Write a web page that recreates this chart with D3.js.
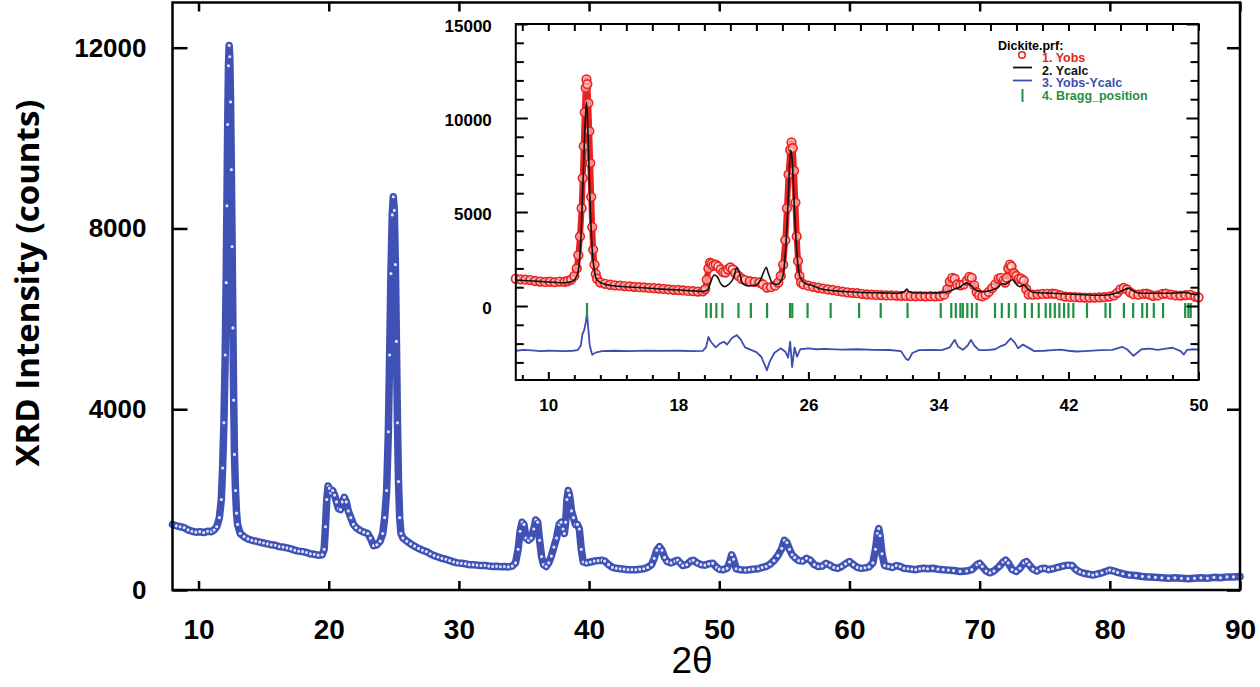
<!DOCTYPE html>
<html><head><meta charset="utf-8">
<script src="https://cdn.jsdelivr.net/npm/d3@7"></script>
<style>body{margin:0;background:#fff}svg{display:block}</style>
</head><body>
<svg id="c" width="1260" height="687"></svg>
<script>
// ---------- DATA ----------
const mainTheta = [8.0,8.3,8.6,8.9,9.2,9.5,9.8,10.1,10.4,10.7,11.0,11.2,11.4,11.6,11.75,11.85,11.95,12.05,12.12,12.18,12.24,12.3,12.35,12.4,12.46,12.52,12.58,12.64,12.7,12.76,12.84,12.92,13.0,13.2,13.5,13.8,14.1,14.4,14.7,15.0,15.3,15.6,15.9,16.2,16.5,16.8,17.1,17.4,17.7,18.0,18.3,18.6,18.9,19.2,19.5,19.65,19.75,19.85,19.95,20.05,20.15,20.3,20.45,20.6,20.75,20.9,21.05,21.2,21.35,21.5,21.7,21.9,22.1,22.4,22.7,23.0,23.2,23.45,23.7,23.95,24.15,24.3,24.45,24.58,24.68,24.78,24.88,24.96,25.04,25.12,25.2,25.28,25.36,25.45,25.55,25.7,26.0,26.3,26.6,26.9,27.2,27.5,27.8,28.1,28.4,28.7,29.0,29.3,29.6,29.9,30.2,30.5,30.8,31.1,31.4,31.7,32.0,32.3,32.6,32.9,33.2,33.5,33.8,34.1,34.35,34.55,34.7,34.85,35.0,35.15,35.35,35.55,35.75,35.9,36.05,36.2,36.35,36.5,36.7,36.9,37.1,37.3,37.5,37.7,37.85,38.0,38.1,38.2,38.3,38.4,38.5,38.65,38.8,38.95,39.1,39.25,39.4,39.55,39.8,40.1,40.4,40.7,41.0,41.2,41.5,41.8,42.1,42.4,42.7,43.0,43.3,43.6,43.9,44.2,44.5,44.8,45.0,45.2,45.4,45.6,45.8,46.0,46.3,46.6,46.8,47.0,47.2,47.5,47.8,48.0,48.3,48.6,48.9,49.2,49.5,49.8,50.0,50.3,50.6,50.8,50.95,51.1,51.3,51.6,52.0,52.3,52.6,53.0,53.3,53.6,53.9,54.2,54.5,54.8,55.0,55.2,55.4,55.6,55.8,56.1,56.4,56.7,57.0,57.3,57.6,57.9,58.2,58.5,58.8,59.1,59.4,59.7,60.0,60.3,60.6,60.9,61.2,61.5,61.8,62.0,62.15,62.25,62.35,62.5,62.7,63.0,63.3,63.6,63.9,64.2,64.5,64.8,65.1,65.4,65.7,66.0,66.4,66.8,67.2,67.6,68.0,68.5,69.0,69.4,69.8,70.0,70.2,70.5,70.8,71.1,71.5,71.8,72.0,72.2,72.5,72.8,73.1,73.4,73.6,73.8,74.1,74.4,74.7,75.0,75.3,75.6,76.0,76.4,76.8,77.1,77.4,77.7,78.0,78.4,78.7,79.0,79.4,79.8,80.0,80.3,80.6,81.0,81.5,82.0,82.5,83.0,83.5,84.0,84.5,85.0,85.5,86.0,86.5,87.0,87.5,88.0,88.5,89.0,89.5,90.0];
const mainCounts = [1450,1420,1400,1380,1330,1300,1280,1290,1270,1300,1290,1330,1400,1600,2000,2700,3700,5200,6800,8500,10300,11600,12050,11800,10800,9300,7600,5800,4200,3000,2200,1700,1450,1250,1180,1130,1100,1080,1060,1040,1020,1000,990,960,950,930,910,880,860,850,830,800,790,770,780,900,1400,2000,2300,2250,2150,2200,2100,1950,1800,1780,1950,2050,1950,1750,1600,1450,1380,1320,1280,1250,1150,980,1000,1080,1250,1600,2200,3500,5200,7000,8300,8700,8400,7200,5500,3700,2400,1600,1250,1150,1080,1020,970,920,880,850,800,760,730,700,680,650,620,600,590,580,560,560,550,540,545,530,520,525,515,520,510,530,600,900,1300,1500,1450,1150,1100,1150,1350,1550,1500,1100,740,560,520,600,750,950,1150,1450,1500,1350,1250,1500,2000,2200,2100,1750,1600,1450,1450,1350,900,620,600,620,640,650,660,640,560,500,480,470,460,450,450,450,460,470,500,560,700,880,960,880,720,630,600,640,660,600,540,560,640,660,600,560,550,580,590,500,460,450,480,620,780,680,470,450,440,450,460,470,500,520,570,650,760,920,1100,1050,900,780,720,650,640,700,660,560,520,530,590,550,500,480,520,580,630,560,500,480,490,510,600,900,1250,1360,1200,800,540,520,500,540,520,480,470,460,450,470,480,470,480,460,450,440,430,410,420,450,560,590,520,420,380,420,520,620,660,600,450,410,480,600,630,560,460,420,470,480,450,470,500,530,550,540,450,400,370,350,330,350,380,420,440,420,390,360,330,320,300,290,280,270,260,270,260,250,260,270,260,280,270,290,290,300];

const calcTheta = [8.0,9.0,10.0,11.0,11.5,11.8,12.0,12.15,12.28,12.35,12.42,12.55,12.7,12.85,13.0,13.5,14.0,15.0,16.0,17.0,18.0,19.0,19.5,19.8,20.0,20.2,20.4,20.6,20.85,21.1,21.4,21.6,21.75,21.95,22.3,22.7,23.0,23.25,23.4,23.55,23.8,24.1,24.4,24.6,24.75,24.9,25.0,25.15,25.3,25.5,25.8,26.2,26.8,27.5,28.5,29.5,30.5,31.5,31.9,32.05,32.2,32.6,33.5,34.2,34.7,35.0,35.3,35.55,35.75,36.0,36.3,36.8,37.3,37.6,37.9,38.1,38.3,38.55,38.75,39.0,39.25,39.45,39.8,40.5,41.0,42.0,43.0,43.8,44.5,45.0,45.4,45.7,45.95,46.3,47.0,48.0,48.6,49.2,49.6,50.0];
const calcCounts = [1380,1330,1280,1240,1320,1700,3500,7000,10000,10850,9800,6000,3000,1800,1380,1150,1080,1010,960,900,850,800,780,850,1300,1650,1550,1200,1030,1150,1500,2050,1800,1200,1060,1100,1300,1800,2060,1700,1200,1150,1500,3000,5500,8300,7800,5000,2700,1500,1200,1100,900,820,760,710,700,680,760,900,760,690,690,710,800,900,1000,1150,1230,1100,850,760,850,950,1200,1150,1250,1400,1200,1030,1120,950,730,690,680,640,600,570,600,700,850,950,820,690,680,680,690,720,640,600];

const diffTheta = [8.0,8.5,9.0,9.5,10.0,10.5,11.0,11.5,11.8,12.0,12.1,12.2,12.3,12.38,12.45,12.55,12.7,12.9,13.3,14.0,15.0,16.0,17.0,18.0,19.0,19.5,19.7,19.85,20.0,20.3,20.55,20.8,21.0,21.3,21.6,21.85,22.1,22.5,22.8,23.1,23.3,23.45,23.6,23.9,24.3,24.6,24.75,24.88,25.0,25.15,25.3,25.5,26.0,26.5,27.0,28.0,29.0,30.0,31.0,31.7,32.0,32.15,32.4,32.8,33.5,34.2,34.7,35.0,35.2,35.5,35.8,36.0,36.2,36.5,37.0,37.5,37.8,38.1,38.45,38.7,38.9,39.2,39.5,39.9,40.5,41.0,41.5,42.0,42.5,43.0,44.0,44.7,45.3,45.6,46.0,46.5,47.0,47.5,48.0,48.4,48.9,49.1,49.3,49.7,50.0];
const diffCounts = [-2380,-2330,-2360,-2400,-2380,-2390,-2400,-2380,-2350,-2100,-1500,-1300,-900,-400,-1100,-2100,-2600,-2480,-2400,-2380,-2400,-2370,-2390,-2380,-2400,-2390,-2200,-1650,-1900,-2200,-2000,-1900,-2050,-1700,-1550,-1800,-2200,-2350,-2450,-2700,-3100,-3420,-3000,-2500,-2250,-2450,-2750,-1900,-3250,-2200,-2700,-2300,-2250,-2300,-2280,-2320,-2300,-2330,-2340,-2400,-2800,-2880,-2500,-2350,-2340,-2350,-2200,-1800,-2150,-2330,-2100,-1800,-2100,-2350,-2350,-2300,-2150,-2050,-1720,-1950,-2250,-2050,-2200,-2400,-2380,-2350,-2320,-2380,-2420,-2400,-2350,-2330,-2170,-2300,-2650,-2300,-2270,-2330,-2270,-2220,-2400,-2580,-2330,-2300,-2320];

const braggTheta = [12.38,19.72,20.0,20.34,20.71,21.7,22.46,23.46,24.87,25.01,25.95,27.37,29.12,30.45,32.1,34.14,34.79,35.07,35.35,35.5,35.78,36.06,36.35,37.48,37.9,38.33,38.75,39.32,39.75,40.17,40.6,40.88,41.16,41.44,41.73,42.0,42.3,43.14,44.28,44.56,45.41,45.98,46.54,46.83,47.25,47.82,49.18,49.38,49.52];

const mainXTicks = [10,20,30,40,50,60,70,80,90];
const mainYTicks = [0,4000,8000,12000];
const insetXTicks = [10,18,26,34,42,50];
const insetYTicks = [0,5000,10000,15000];
const legendItems = ["1. Yobs","2. Ycalc","3. Yobs-Ycalc","4. Bragg_position"];

// ---------- DRAW ----------
const svg = d3.select("#c");
const BLUE = "#3f51b5", RED = "#ea2320", GREEN = "#1f9142", DBLUE = "#3d4eb0";
const FONT = "'Liberation Sans', Arial, sans-serif";
const fmt = d3.format("d");

const x = d3.scaleLinear().domain([8,90]).range([172.5,1240]);
const y = d3.scaleLinear().domain([0,13000]).range([590,2.5]);

const mainPts = mainTheta.map((t,i)=>[t, mainCounts[i]]);

// main series
const line = d3.line().x(d=>x(d[0])).y(d=>y(d[1]));
svg.append("path").datum(mainPts).attr("d", line)
  .attr("fill","none").attr("stroke",BLUE).attr("stroke-width",7.5)
  .attr("stroke-linejoin","round").attr("stroke-linecap","round");
svg.append("g").selectAll("circle").data(mainPts).join("circle")
  .attr("cx",d=>x(d[0])).attr("cy",d=>y(d[1])).attr("r",2.2)
  .attr("fill","#dfe3f5").attr("stroke",BLUE).attr("stroke-width",1.2);

// main axes (ticks on all sides, inward)
function styleAxis(g, fs){
  g.select(".domain").remove();
  g.selectAll("line").attr("stroke","#000").attr("stroke-width",2.5);
  g.selectAll("text").attr("font-family",FONT).attr("font-weight","bold").attr("font-size",fs).attr("fill","#000");
}
const gxB = svg.append("g").attr("transform","translate(0,590)")
  .call(d3.axisBottom(x).tickValues(mainXTicks).tickSize(-9).tickPadding(29).tickFormat(fmt));
styleAxis(gxB, 28);
const gxT = svg.append("g").attr("transform","translate(0,2.5)")
  .call(d3.axisTop(x).tickValues(mainXTicks).tickSize(-9).tickFormat(""));
styleAxis(gxT, 28);
const gyL = svg.append("g").attr("transform","translate(172.5,0)")
  .call(d3.axisLeft(y).tickValues(mainYTicks).tickSize(-15).tickPadding(26).tickFormat(fmt));
styleAxis(gyL, 26);
const gyR = svg.append("g").attr("transform","translate(1240,0)")
  .call(d3.axisRight(y).tickValues(mainYTicks).tickSize(-13).tickFormat(""));
styleAxis(gyR, 26);
svg.append("rect").attr("x",172.5).attr("y",2.5).attr("width",1240-172.5).attr("height",590-2.5)
  .attr("fill","none").attr("stroke","#000").attr("stroke-width",2.5);

svg.append("text").attr("x",692).attr("y",673).attr("text-anchor","middle")
  .attr("font-family",FONT).attr("font-size",37).attr("fill","#000").text("2θ");
svg.append("text").attr("transform","translate(39,283) rotate(-90)").attr("text-anchor","middle")
  .attr("font-family","'Open Sans','Noto Sans',sans-serif").attr("font-weight","bold").attr("font-size",33)
  .attr("fill","#000").text("XRD Intensity (counts)");

// ---------- INSET ----------
const ix = d3.scaleLinear().domain([8,50]).range([515.8,1198.5]);
const iy = d3.scaleLinear().domain([-3936,15000]).range([380,24]);
const inset = svg.append("g");
inset.append("rect").attr("x",ix(8)).attr("y",iy(15000)).attr("width",ix(50)-ix(8)).attr("height",iy(-3936)-iy(15000)).attr("fill","#fff");

const obsPts = mainPts.filter(d=>d[0]<=50);
inset.append("path").datum(obsPts).attr("d", d3.line().x(d=>ix(d[0])).y(d=>iy(d[1])))
  .attr("fill","none").attr("stroke",RED).attr("stroke-width",6).attr("stroke-linejoin","round");
inset.append("g").selectAll("circle").data(obsPts).join("circle")
  .attr("cx",d=>ix(d[0])).attr("cy",d=>iy(d[1])).attr("r",4.3)
  .attr("fill","#fff").attr("fill-opacity",0.5).attr("stroke",RED).attr("stroke-width",1.7);

const calcPts = calcTheta.map((t,i)=>[t, calcCounts[i]]);
inset.append("path").datum(calcPts).attr("d", d3.line().x(d=>ix(d[0])).y(d=>iy(d[1])).curve(d3.curveMonotoneX))
  .attr("fill","none").attr("stroke","#111").attr("stroke-width",1.6);

const diffPts = diffTheta.map((t,i)=>[t, diffCounts[i]]);
inset.append("path").datum(diffPts).attr("d", d3.line().x(d=>ix(d[0])).y(d=>iy(d[1])))
  .attr("fill","none").attr("stroke",DBLUE).attr("stroke-width",1.8).attr("stroke-linejoin","round");

inset.append("g").selectAll("line").data(braggTheta).join("line")
  .attr("x1",d=>ix(d)).attr("x2",d=>ix(d)).attr("y1",iy(160)).attr("y2",iy(-640))
  .attr("stroke",GREEN).attr("stroke-width",2.2);

// inset axes
function styleInset(g){
  g.select(".domain").remove();
  g.selectAll("line").attr("stroke","#000").attr("stroke-width",2);
  g.selectAll("text").attr("font-family",FONT).attr("font-weight","bold").attr("font-size",17).attr("fill","#000");
}
const xMinor = d3.range(8.4, 50, 1.6).filter(v=>!insetXTicks.some(t=>Math.abs(t-v)<0.01));
const yMinor = d3.range(-3000, 15000, 1000).filter(v=>v%5000!==0);
const ixB = inset.append("g").attr("transform",`translate(0,${iy(-3936)})`);
ixB.call(d3.axisBottom(ix).tickValues(insetXTicks).tickSize(-8).tickPadding(19).tickFormat(fmt)); styleInset(ixB);
const ixBm = inset.append("g").attr("transform",`translate(0,${iy(-3936)})`);
ixBm.call(d3.axisBottom(ix).tickValues(xMinor).tickSize(-5).tickFormat("")); styleInset(ixBm);
const ixT = inset.append("g").attr("transform",`translate(0,${iy(15000)})`);
ixT.call(d3.axisTop(ix).tickValues(insetXTicks.concat(xMinor)).tickSize(-7).tickFormat("")); styleInset(ixT);
const iyL = inset.append("g").attr("transform",`translate(${ix(8)},0)`);
iyL.call(d3.axisLeft(iy).tickValues(insetYTicks).tickSize(-12).tickPadding(24).tickFormat(fmt)); styleInset(iyL);
iyL.selectAll("text").attr("dy","0.45em");
const iyLm = inset.append("g").attr("transform",`translate(${ix(8)},0)`);
iyLm.call(d3.axisLeft(iy).tickValues(yMinor).tickSize(-8).tickFormat("")); styleInset(iyLm);
const iyR = inset.append("g").attr("transform",`translate(${ix(50)},0)`);
iyR.call(d3.axisRight(iy).tickValues(insetYTicks).tickSize(-12).tickFormat("")); styleInset(iyR);
const iyRm = inset.append("g").attr("transform",`translate(${ix(50)},0)`);
iyRm.call(d3.axisRight(iy).tickValues(yMinor).tickSize(-8).tickFormat("")); styleInset(iyRm);
inset.append("rect").attr("x",ix(8)).attr("y",iy(15000)).attr("width",ix(50)-ix(8)).attr("height",iy(-3936)-iy(15000))
  .attr("fill","none").attr("stroke","#000").attr("stroke-width",2);

// legend
const lg = inset.append("g").attr("font-family",FONT).attr("font-weight","bold").attr("font-size",12.5);
lg.append("text").attr("x",998).attr("y",50).attr("fill","#000").text("Dickite.prf:");
const lgColors = [RED,"#111",DBLUE,GREEN];
legendItems.forEach((t,i)=>{
  const yy = 62 + i*12.6;
  lg.append("text").attr("x",1042).attr("y",yy).attr("fill",lgColors[i]).text(t);
});
lg.append("circle").attr("cx",1022).attr("cy",55).attr("r",3.3).attr("fill","none").attr("stroke",RED).attr("stroke-width",1.6);
lg.append("line").attr("x1",1013).attr("x2",1032).attr("y1",67.5).attr("y2",67.5).attr("stroke","#111").attr("stroke-width",1.8);
lg.append("line").attr("x1",1013).attr("x2",1032).attr("y1",80.5).attr("y2",80.5).attr("stroke",DBLUE).attr("stroke-width",1.8);
lg.append("line").attr("x1",1022.5).attr("x2",1022.5).attr("y1",89).attr("y2",102).attr("stroke",GREEN).attr("stroke-width",2);
</script>
</body></html>
